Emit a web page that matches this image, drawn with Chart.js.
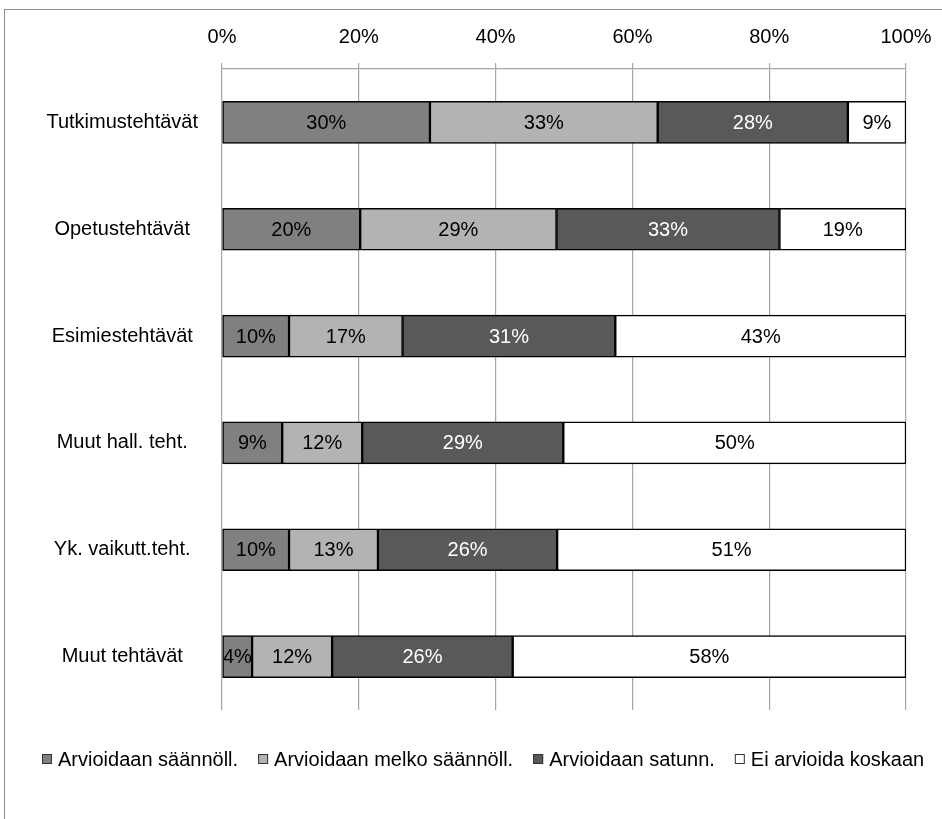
<!DOCTYPE html>
<html>
<head>
<meta charset="utf-8">
<script src="https://cdn.jsdelivr.net/npm/chart.js@4"></script>
<style>
  body { margin: 0; background: #fff; }
  #frame { position: absolute; left: 4px; top: 9px; width: 960px; height: 840px;
           border-left: 1px solid #8c8c8c; border-top: 1px solid #8c8c8c; }
  #wrap { position: absolute; left: 0; top: 0; width: 942px; height: 819px; }
</style>
</head>
<body>
<div id="frame"></div>
<div id="wrap"><canvas id="chart" width="942" height="819"></canvas></div>
<script>
// categories and series (percent of respondents)
const categories = ["Tutkimustehtävät", "Opetustehtävät", "Esimiestehtävät",
                    "Muut hall. teht.", "Yk. vaikutt.teht.", "Muut tehtävät"];
const seriesNames = ["Arvioidaan säännöll.", "Arvioidaan melko säännöll.",
                     "Arvioidaan satunn.", "Ei arvioida koskaan"];
const saannoll = [30.4, 20.2, 9.8, 8.8, 9.8, 4.4];
const melkoSaannoll = [33.3, 28.7, 16.6, 11.7, 13.0, 11.7];
const satunn = [27.8, 32.6, 31.1, 29.4, 26.2, 26.4];
const eiKoskaan = [8.5, 18.5, 42.5, 50.1, 51.0, 57.5];
const xTicks = [0, 20, 40, 60, 80, 100];

const colors = ["#808080", "#b3b3b3", "#595959", "#ffffff"];
const labelColors = ["#000", "#000", "#fff", "#000"];
const FONT = "'Liberation Sans', Arial, sans-serif";

// draw the percentage in the middle of each bar segment
const barLabels = {
  id: "barLabels",
  afterDatasetsDraw(chart) {
    const ctx = chart.ctx;
    ctx.save();
    ctx.font = "20px " + FONT;
    ctx.textAlign = "center";
    ctx.textBaseline = "middle";
    chart.data.datasets.forEach((ds, i) => {
      chart.getDatasetMeta(i).data.forEach((bar, j) => {
        ctx.fillStyle = labelColors[i];
        ctx.fillText(Math.round(ds.data[j]) + "%", (bar.x + bar.base) / 2, bar.y + 1);
      });
    });
    ctx.restore();
  }
};

// legend row under the plot, Excel style (small boxes, wide gaps)
const bottomLegend = {
  id: "bottomLegend",
  afterDraw(chart) {
    const ctx = chart.ctx;
    ctx.save();
    ctx.font = "20px " + FONT;
    ctx.textBaseline = "middle";
    let x = 42;
    const y = 760;
    chart.data.datasets.forEach((ds, i) => {
      ctx.fillStyle = colors[i];
      ctx.fillRect(x, y - 6, 10, 10);
      ctx.strokeStyle = "#333";
      ctx.lineWidth = 1;
      ctx.strokeRect(x + 0.5, y - 5.5, 9, 9);
      ctx.fillStyle = "#000";
      ctx.fillText(ds.label, x + 16, y);
      x += 16 + ctx.measureText(ds.label).width + 20;
    });
    ctx.restore();
  }
};

const datasets = [saannoll, melkoSaannoll, satunn, eiKoskaan].map((d, i) => ({
  label: seriesNames[i],
  data: d,
  backgroundColor: colors[i],
  borderColor: "#000",
  borderWidth: 1.5,
  borderSkipped: false,
  barThickness: 42
}));

new Chart(document.getElementById("chart"), {
  type: "bar",
  data: { labels: categories, datasets: datasets },
  options: {
    indexAxis: "y",
    responsive: false,
    animation: false,
    layout: { padding: { left: 3, right: 36, top: 11, bottom: 109 } },
    plugins: {
      tooltip: { enabled: false },
      legend: { display: false }
    },
    scales: {
      x: {
        position: "top",
        stacked: true,
        min: 0, max: 100,
        afterBuildTicks(scale) { scale.ticks = xTicks.map(v => ({ value: v })); },
        afterFit(scale) { scale.paddingRight = 30; },
        ticks: { callback: v => v + "%", color: "#000", padding: 14,
                 font: { family: FONT, size: 20 }, maxRotation: 0 },
        grid: { color: "#a6a6a6", tickLength: 6, lineWidth: 1.2 },
        border: { color: "#a6a6a6", width: 1.2 }
      },
      y: {
        stacked: true,
        afterFit(scale) { scale.width = 219; },
        ticks: { color: "#000", crossAlign: "center", padding: 16,
                 font: { family: FONT, size: 20 } },
        grid: { display: false },
        border: { display: false }
      }
    }
  },
  plugins: [barLabels, bottomLegend]
});
</script>
</body>
</html>
